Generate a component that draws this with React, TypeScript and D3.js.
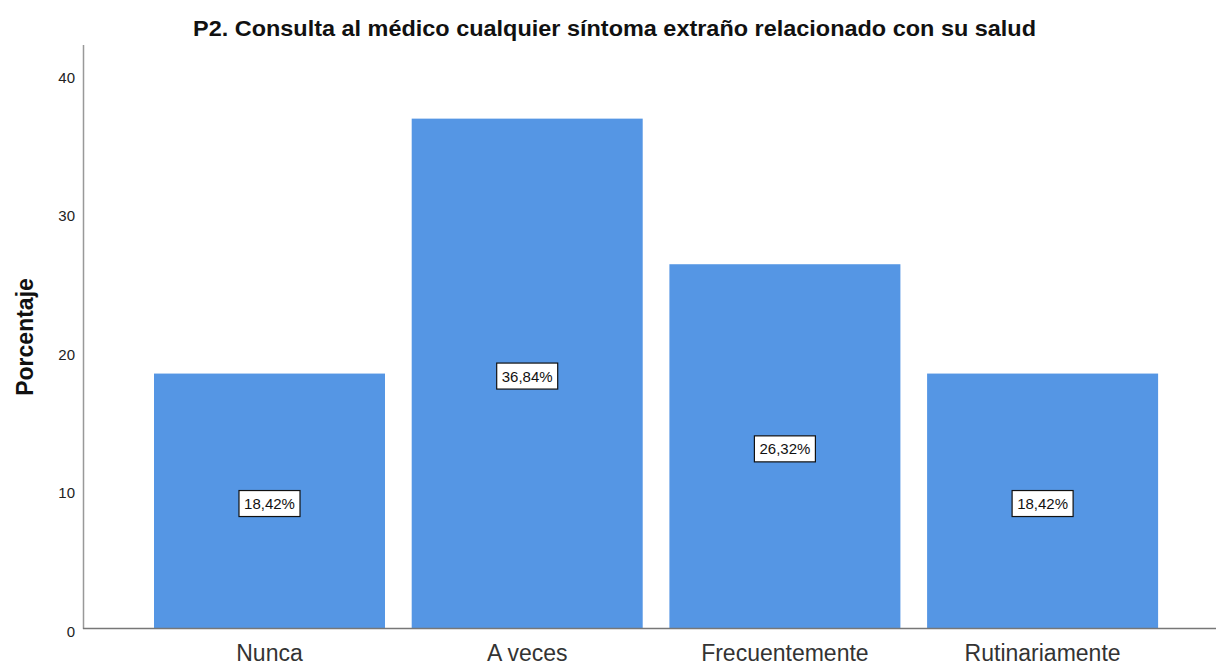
import React from "react";
import * as d3 from "d3";

const categories = ["Nunca", "A veces", "Frecuentemente", "Rutinariamente"];
const values = [18.42, 36.84, 26.32, 18.42];
const yTicks = [0, 10, 20, 30, 40];
const title = "P2. Consulta al médico cualquier síntoma extraño relacionado con su salud";
const yLabel = "Porcentaje";

const W = 1216;
const H = 665;

export default function App() {
  const x = d3.scaleBand<string>().domain(categories).range([140.65, 1171.45]).paddingInner(0.1036).paddingOuter(0.0518);
  const y = d3.scaleLinear().domain([0, 40]).range([628.5, 74.9]);
  const fmt = (v: number) => v.toFixed(2).replace(".", ",") + "%";
  return (
    <svg width={W} height={H} style={{ position: "absolute", left: 0, top: 0, background: "#fff" }}
      fontFamily="'Liberation Sans', Arial, sans-serif">
      <text x={614.5} y={36} textAnchor="middle" fontSize={22} fontWeight="bold" fill="#111"
        textLength={843} lengthAdjust="spacingAndGlyphs">{title}</text>
      <text transform="translate(33,337) rotate(-90)" textAnchor="middle" fontSize={23} fontWeight="bold" fill="#111">{yLabel}</text>
      {categories.map((c, i) => (
        <rect key={c} x={x(c)} y={y(values[i])} width={x.bandwidth()} height={y(0) - y(values[i])} fill="#5596e4" />
      ))}
      <line x1={83.5} x2={83.5} y1={45} y2={629} stroke="#999" strokeWidth={1.5} />
      <line x1={83} x2={W} y1={628.5} y2={628.5} stroke="#777" strokeWidth={1.5} />
      {yTicks.map(t => (
        <text key={t} x={75} y={y(t) + 8} textAnchor="end" fontSize={15} fill="#222">{t}</text>
      ))}
      {categories.map(c => (
        <text key={c} x={(x(c) as number) + x.bandwidth() / 2} y={661} textAnchor="middle" fontSize={23} fill="#333">{c}</text>
      ))}
      {categories.map((c, i) => {
        const cx = (x(c) as number) + x.bandwidth() / 2;
        const cy = y(values[i] / 2) + 2.5;
        return (
          <g key={c}>
            <rect x={cx - 30.5} y={cy - 13} width={61} height={26} fill="#fff" stroke="#111" strokeWidth={1.2} />
            <text x={cx} y={cy + 5.5} textAnchor="middle" fontSize={15} fill="#111">{fmt(values[i])}</text>
          </g>
        );
      })}
    </svg>
  );
}
